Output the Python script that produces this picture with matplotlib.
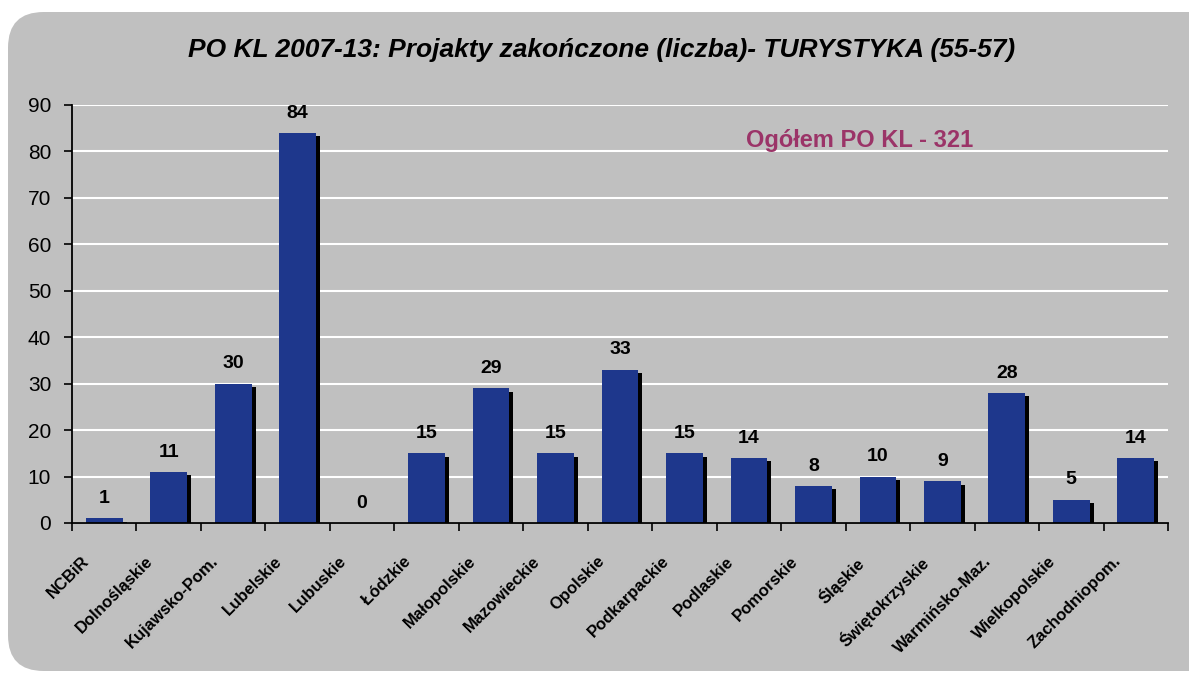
import matplotlib
matplotlib.use("Agg")
import matplotlib.pyplot as plt
from matplotlib.patches import FancyBboxPatch
from matplotlib import transforms
import numpy as np

categories = ["NCBiR", "Dolnośląskie", "Kujawsko-Pom.", "Lubelskie", "Lubuskie",
              "Łódzkie", "Małopolskie", "Mazowieckie", "Opolskie", "Podkarpackie",
              "Podlaskie", "Pomorskie", "Śląskie", "Świętokrzyskie", "Warmińsko-Maz.",
              "Wielkopolskie", "Zachodniopom."]
values = [1, 11, 30, 84, 0, 15, 29, 15, 33, 15, 14, 8, 10, 9, 28, 5, 14]
yticks = [0, 10, 20, 30, 40, 50, 60, 70, 80, 90]
title = "PO KL 2007-13: Projakty zakończone (liczba)- TURYSTYKA (55-57)"
note = "Ogółem PO KL - 321"

plt.rcParams['font.family'] = ['Liberation Sans', 'DejaVu Sans']

W, H = 1189, 673
fig = plt.figure(figsize=(W / 100, H / 100), dpi=100)
fig.patch.set_facecolor('white')

# rounded grey background panel
bg = FancyBboxPatch((8 / W, 2 / H), 1.2, 1 - 14 / H,
                    boxstyle="round,pad=0,rounding_size=0.03",
                    transform=fig.transFigure, facecolor='#C0C0C0',
                    edgecolor='none', zorder=-10, mutation_aspect=W / H)
fig.patches.append(bg)

ax = fig.add_axes([72 / W, 1 - 523 / H, (1168 - 72) / W, (523 - 105) / H])
ax.set_facecolor('none')
ax.set_zorder(2)

x = np.arange(len(categories))
bw = 0.57
shadow_tr = transforms.offset_copy(ax.transData, fig=fig, x=4, y=-3.5, units='dots')
for xi, v in zip(x, values):
    if v > 0:
        ax.bar(xi, v, width=bw, color='black', transform=shadow_tr, zorder=2)
ax.bar(x, values, width=bw, color='#1E378C', zorder=3)

for xi, v in zip(x, values):
    ax.annotate(str(v), (xi, v), xytext=(0, 11), textcoords='offset points',
                ha='center', va='baseline', fontsize=14, fontweight='bold', zorder=4)

ax.set_xlim(-0.5, len(categories) - 0.5)
ax.set_ylim(0, 90)
ax.set_yticks(yticks)
ax.yaxis.grid(True, color='white', linewidth=1.5, zorder=1)
ax.set_axisbelow(True)

ax.set_xticks(x)
ax.set_xticklabels(categories, rotation=45, ha='right', va='top',
                   rotation_mode='anchor', fontsize=12, fontweight='bold')
ax.set_xticks(np.arange(len(categories) + 1) - 0.5, minor=True)
ax.tick_params(axis='x', which='major', length=0, pad=22)
ax.tick_params(axis='x', which='minor', length=6, width=1.2, direction='out')
ax.tick_params(axis='y', length=6, width=1.2, direction='out', pad=9, labelsize=15)
shift = transforms.ScaledTranslation(-23 / 100, 0, fig.dpi_scale_trans)
for lab in ax.get_xticklabels():
    lab.set_transform(lab.get_transform() + shift)

for s in ['top', 'right']:
    ax.spines[s].set_visible(False)
for s in ['left', 'bottom']:
    ax.spines[s].set_linewidth(1.3)
    ax.spines[s].set_zorder(5)

fig.text(602 / W, 1 - 50 / H, title, ha='center', va='center', fontsize=19,
         fontweight='bold', fontstyle='italic')
fig.text(860 / W, 1 - 141 / H, note, ha='center', va='center', fontsize=17,
         fontweight='bold', color='#9B3468')

fig.savefig('out.png', dpi=100, facecolor='white')
